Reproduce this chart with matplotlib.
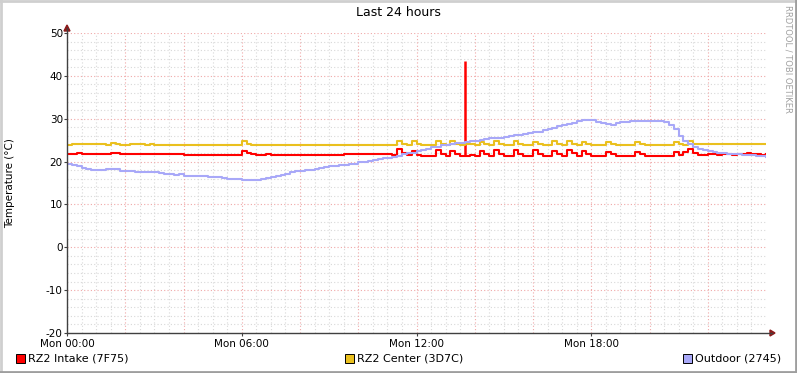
import numpy as np
import matplotlib
matplotlib.use('Agg')
import matplotlib.pyplot as plt
from matplotlib.lines import Line2D
from matplotlib.patches import Rectangle, Polygon

# 10-minute samples, Mon 00:00 .. Tue 00:00 (145 values)
intake = [
    21.8, 21.8, 21.9, 21.8, 21.8, 21.8,
    21.8, 21.8, 21.8, 22.0, 21.9, 21.8,
    21.8, 21.8, 21.8, 21.8, 21.8, 21.8,
    21.8, 21.8, 21.8, 21.8, 21.8, 21.8,
    21.5, 21.5, 21.5, 21.5, 21.5, 21.5,
    21.5, 21.5, 21.5, 21.5, 21.5, 21.5,
    22.5, 21.9, 21.7, 21.6, 21.6, 21.7,
    21.5, 21.5, 21.5, 21.6, 21.5, 21.5,
    21.5, 21.5, 21.5, 21.5, 21.5, 21.6,
    21.6, 21.6, 21.6, 21.7, 21.7, 21.7,
    21.7, 21.7, 21.8, 21.7, 21.7, 21.8,
    21.7, 21.6, 22.9, 22.1, 21.5, 22.4,
    21.6, 21.2, 21.3, 21.4, 22.6, 21.8,
    21.3, 22.5, 21.7, 21.3, 21.3, 21.6,
    21.3, 22.5, 21.8, 21.3, 22.6, 21.7,
    21.2, 21.3, 22.6, 21.8, 21.3, 21.2,
    22.6, 21.8, 21.3, 21.2, 22.5, 21.7,
    21.2, 22.6, 21.9, 21.3, 22.4, 21.7,
    21.3, 21.3, 21.2, 22.3, 21.7, 21.3,
    21.3, 21.2, 21.3, 22.3, 21.7, 21.3,
    21.2, 21.2, 21.2, 21.3, 21.4, 22.3,
    21.6, 22.3, 22.9, 21.9, 21.6, 21.6,
    21.7, 21.7, 21.6, 21.7, 21.7, 21.6,
    21.7, 21.7, 21.9, 21.7, 21.7, 21.6,
    21.7,
]
# short single-sample spike on the intake sensor
spike_hour = 13.68
spike_value = 43.5

center = [
    23.9, 24.0, 24.0, 24.0, 24.0, 24.0,
    24.0, 24.0, 23.8, 24.3, 24.1, 23.9,
    23.9, 24.0, 24.0, 24.0, 23.9, 24.0,
    23.9, 23.9, 23.9, 23.9, 23.9, 23.9,
    23.9, 23.9, 23.9, 23.9, 23.9, 23.9,
    23.8, 23.8, 23.8, 23.8, 23.8, 23.8,
    24.7, 24.1, 23.9, 23.8, 23.9, 23.8,
    23.8, 23.8, 23.9, 23.8, 23.8, 23.8,
    23.8, 23.8, 23.8, 23.8, 23.8, 23.8,
    23.9, 23.9, 23.9, 23.9, 23.9, 23.9,
    23.9, 23.9, 23.9, 23.9, 23.9, 23.9,
    23.9, 23.9, 24.9, 24.1, 23.9, 24.8,
    24.0, 23.8, 23.8, 23.9, 24.8, 24.1,
    23.8, 24.7, 24.1, 23.8, 24.2, 24.0,
    23.8, 24.6, 24.1, 23.8, 24.7, 24.0,
    23.8, 23.8, 24.7, 24.1, 23.8, 23.8,
    24.6, 24.0, 23.8, 23.8, 24.7, 24.1,
    23.8, 24.9, 24.1, 23.8, 24.6, 24.0,
    23.8, 23.8, 23.8, 24.5, 24.0, 23.8,
    23.8, 23.8, 23.8, 24.5, 24.0, 23.8,
    23.8, 23.8, 23.8, 23.8, 23.8, 24.6,
    24.0, 23.8, 24.7, 24.1, 24.0, 24.0,
    24.0, 24.0, 24.0, 24.0, 24.0, 24.0,
    24.0, 24.0, 24.0, 24.0, 24.0, 24.0,
    24.0,
]

outdoor = [
    19.5, 19.3, 18.9, 18.5, 18.2, 18.1,
    18.0, 18.0, 18.2, 18.3, 18.3, 17.9,
    17.9, 17.7, 17.5, 17.5, 17.5, 17.5,
    17.5, 17.4, 17.2, 17.1, 16.9, 17.0,
    16.7, 16.6, 16.6, 16.6, 16.6, 16.5,
    16.3, 16.3, 16.2, 16.0, 16.0, 15.9,
    15.8, 15.8, 15.7, 15.8, 15.9, 16.1,
    16.3, 16.6, 16.9, 17.2, 17.5, 17.7,
    17.8, 18.0, 18.1, 18.2, 18.4, 18.7,
    18.9, 19.0, 19.1, 19.3, 19.4, 19.5,
    19.8, 20.0, 20.2, 20.4, 20.6, 20.8,
    20.9, 21.1, 21.4, 21.7, 21.9, 22.1,
    22.4, 22.7, 23.0, 23.3, 23.5, 23.8,
    23.9, 24.1, 24.3, 24.4, 24.6, 24.7,
    24.8, 25.0, 25.2, 25.4, 25.5, 25.6,
    25.8, 26.0, 26.1, 26.3, 26.5, 26.6,
    26.8, 27.0, 27.3, 27.6, 27.9, 28.2,
    28.5, 28.8, 29.1, 29.4, 29.6, 29.7,
    29.6, 29.3, 29.0, 28.8, 28.6, 28.9,
    29.2, 29.3, 29.5, 29.5, 29.4, 29.4,
    29.5, 29.5, 29.4, 29.3, 28.6, 27.6,
    26.0, 24.8, 24.0, 23.4, 23.0, 22.7,
    22.5, 22.2, 22.0, 21.9, 21.8, 21.7,
    21.7, 21.6, 21.6, 21.5, 21.3, 21.2,
    21.1,
]

series_names = ['RZ2 Intake (7F75)', 'RZ2 Center (3D7C)', 'Outdoor (2745)']
series_colors = ['#FF0000', '#EAC01E', '#A8A8F8']
tick_hours = [0, 6, 12, 18]
tick_labels = ['Mon 00:00', 'Mon 06:00', 'Mon 12:00', 'Mon 18:00']

W, H = 797, 373
fig = plt.figure(figsize=(W / 100, H / 100), dpi=100)
fig.patch.set_facecolor('white')

# plot area in pixels
x0, x1, ytop, ybot = 67, 766, 33, 333
ax = fig.add_axes([x0 / W, (H - ybot) / H, (x1 - x0) / W, (ybot - ytop) / H])
ax.set_facecolor('white')

hours = np.arange(len(intake)) / 6.0
ax.set_xlim(0, 24)
ax.set_ylim(-20, 50)

# grid: grey every 30 min / 2 deg, red every 2 h / 10 deg
for xv in np.arange(0.5, 24, 0.5):
    if xv % 2 != 0:
        ax.axvline(xv, color='#D8D8D8', lw=0.8, ls=(0, (1, 2)), zorder=0)
for yv in np.arange(-18, 50, 2):
    if yv % 10 != 0:
        ax.axhline(yv, color='#D8D8D8', lw=0.8, ls=(0, (1, 2)), zorder=0)
for xv in np.arange(2, 24, 2):
    ax.axvline(xv, color='#F0A8A8', lw=0.8, ls=(0, (1, 2)), zorder=0)
for yv in np.arange(-10, 51, 10):
    ax.axhline(yv, color='#F0A8A8', lw=0.8, ls=(0, (1, 2)), zorder=0)

ax.step(hours, intake, where='post', color=series_colors[0], lw=1.5, zorder=3)
ax.vlines(spike_hour, intake[82], spike_value, color=series_colors[0], lw=1.8, zorder=3)
ax.step(hours, center, where='post', color=series_colors[1], lw=1.5, zorder=3)
ax.step(hours, outdoor, where='post', color=series_colors[2], lw=1.5, zorder=4)

ax.set_xticks(tick_hours)
ax.set_xticklabels(tick_labels, fontsize=7.5)
ax.set_yticks(np.arange(-20, 51, 10))
ax.set_yticklabels([str(v) for v in range(-20, 51, 10)], fontsize=7.5)
ax.tick_params(which='major', length=2, width=0.8, color='#404040', pad=1)
ax.tick_params(axis='x', pad=2)

for s in ['top', 'right', 'left', 'bottom']:
    ax.spines[s].set_visible(False)


def fx(px):
    return px / W


def fy(py):
    return (H - py) / H


# axis lines with arrow heads
fig.add_artist(Line2D([fx(x0), fx(772)], [fy(ybot), fy(ybot)], color='#404040', lw=1))
fig.add_artist(Line2D([fx(x0), fx(x0)], [fy(ybot), fy(28)], color='#404040', lw=1))
fig.add_artist(Polygon([[fx(770), fy(330)], [fx(775), fy(ybot)], [fx(770), fy(336)]],
                       closed=True, color='#8B1A1A'))
fig.add_artist(Polygon([[fx(64), fy(31)], [fx(x0), fy(25)], [fx(70), fy(31)]],
                       closed=True, color='#8B1A1A'))

fig.text(0.5, fy(13), 'Last 24 hours', fontsize=9, ha='center', va='center')
fig.text(10 / W, fy(183), 'Temperature (°C)', rotation=90, fontsize=7.5,
         ha='center', va='center')
fig.text(788 / W, fy(5), 'RRDTOOL / TOBI OETIKER', rotation=270, fontsize=6,
         color='#A0A0A0', ha='center', va='top')

# legend
leg_x = [16, 345, 683]
for lx, name, col in zip(leg_x, series_names, series_colors):
    fig.add_artist(Rectangle((fx(lx), fy(363)), 9 / W, 9 / H, facecolor=col,
                             edgecolor='black', lw=0.7))
    fig.text(fx(lx + 12), fy(358.5), name, fontsize=8, va='center', ha='left')

# canvas border
fig.add_artist(Line2D([0, 1], [fy(1), fy(1)], color='#CFCFCF', lw=2))
fig.add_artist(Line2D([fx(1), fx(1)], [0, 1], color='#CFCFCF', lw=2))
fig.add_artist(Line2D([0, 1], [fy(372), fy(372)], color='#9E9E9E', lw=2))
fig.add_artist(Line2D([fx(796), fx(796)], [0, 1], color='#9E9E9E', lw=2))

fig.savefig('out.png', dpi=100, facecolor='white')
